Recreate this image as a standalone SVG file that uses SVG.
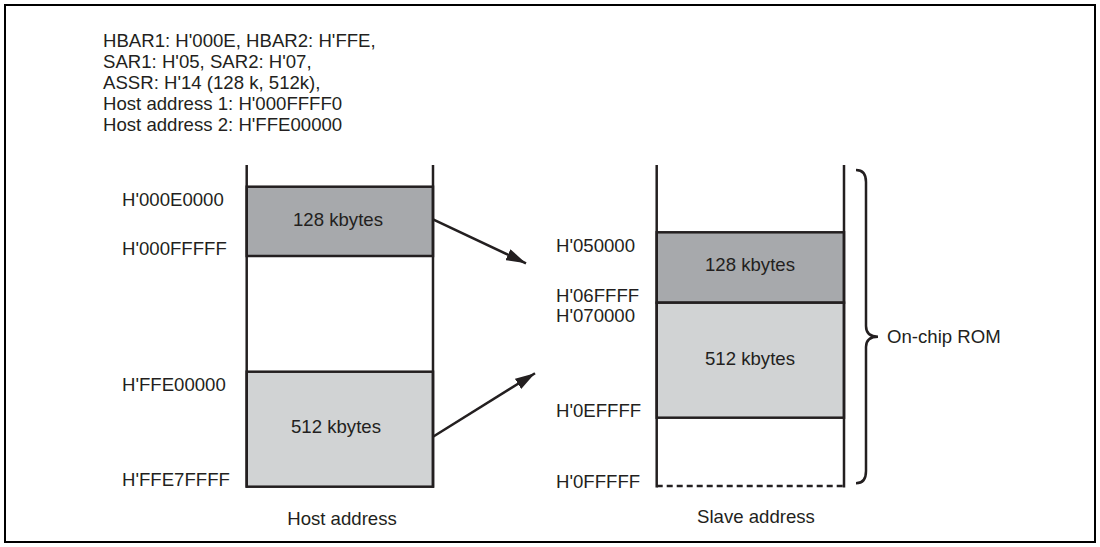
<svg xmlns="http://www.w3.org/2000/svg" width="1100" height="547" viewBox="0 0 1100 547">
<defs>
<marker id="ah" viewBox="0 0 20 12" refX="20" refY="6" markerWidth="20" markerHeight="12" markerUnits="userSpaceOnUse" orient="auto">
<path d="M0,0 L20,6 L0,12 z" fill="#231f20"/>
</marker>
<style>
text{font-family:"Liberation Sans",Arial,sans-serif;font-size:18.6px;fill:#231f20}
.m{text-anchor:middle}
.ln{stroke:#231f20;stroke-width:2.5;fill:none}
.dk{fill:#a7a9ac;stroke:#231f20;stroke-width:2.5}
.lt{fill:#d1d3d4;stroke:#231f20;stroke-width:2.5}
</style>
</defs>
<rect x="0" y="0" width="1100" height="547" fill="#ffffff"/>
<rect x="5" y="5" width="1090" height="537" fill="none" stroke="#000" stroke-width="2"/>
<g id="header">
<text x="103" y="47">HBAR1: H'000E, HBAR2: H'FFE,</text>
<text x="103" y="68">SAR1: H'05, SAR2: H'07,</text>
<text x="103" y="89">ASSR: H'14 (128 k, 512k),</text>
<text x="103" y="110">Host address 1: H'000FFFF0</text>
<text x="103" y="131">Host address 2: H'FFE00000</text>
</g>
<g id="host">
<rect class="dk" x="246.7" y="186.7" width="186.3" height="69.3"/>
<rect class="lt" x="246.7" y="371.7" width="186.3" height="115"/>
<line class="ln" x1="246.7" y1="165" x2="246.7" y2="487.5"/>
<line class="ln" x1="433" y1="165" x2="433" y2="487.5"/>
<text class="m" x="338" y="226">128 kbytes</text>
<text class="m" x="336" y="433">512 kbytes</text>
<text x="122" y="206">H'000E0000</text>
<text x="122" y="255">H'000FFFFF</text>
<text x="122" y="391">H'FFE00000</text>
<text x="122" y="486">H'FFE7FFFF</text>
<text class="m" x="342" y="525">Host address</text>
</g>
<g id="slave">
<rect class="dk" x="656.7" y="232.3" width="187.3" height="70.4"/>
<rect class="lt" x="656.7" y="302.7" width="187.3" height="115"/>
<line class="ln" x1="656.7" y1="165" x2="656.7" y2="487.5"/>
<line class="ln" x1="844" y1="165" x2="844" y2="487.5"/>
<line x1="656.7" y1="486" x2="844" y2="486" stroke="#231f20" stroke-width="2.5" stroke-dasharray="6,4"/>
<text class="m" x="750" y="271">128 kbytes</text>
<text class="m" x="750" y="365">512 kbytes</text>
<text x="556" y="252">H'050000</text>
<text x="556" y="302">H'06FFFF</text>
<text x="556" y="322">H'070000</text>
<text x="556" y="417">H'0EFFFF</text>
<text x="556" y="488">H'0FFFFF</text>
<text class="m" x="756" y="523">Slave address</text>
</g>
<g id="rom">
<path class="ln" stroke-width="1.5" d="M856,170 Q866,170 866,182 L866,326 Q866,336.7 878,336.7 Q866,336.7 866,347 L866,471 Q866,483.3 856,483.3"/>
<text x="887" y="343">On-chip ROM</text>
</g>
<g id="connectors">
<line class="ln" x1="433" y1="219.3" x2="526" y2="263.3" marker-end="url(#ah)"/>
<line class="ln" x1="433" y1="436.7" x2="535" y2="373.3" marker-end="url(#ah)"/>
</g>
</svg>
